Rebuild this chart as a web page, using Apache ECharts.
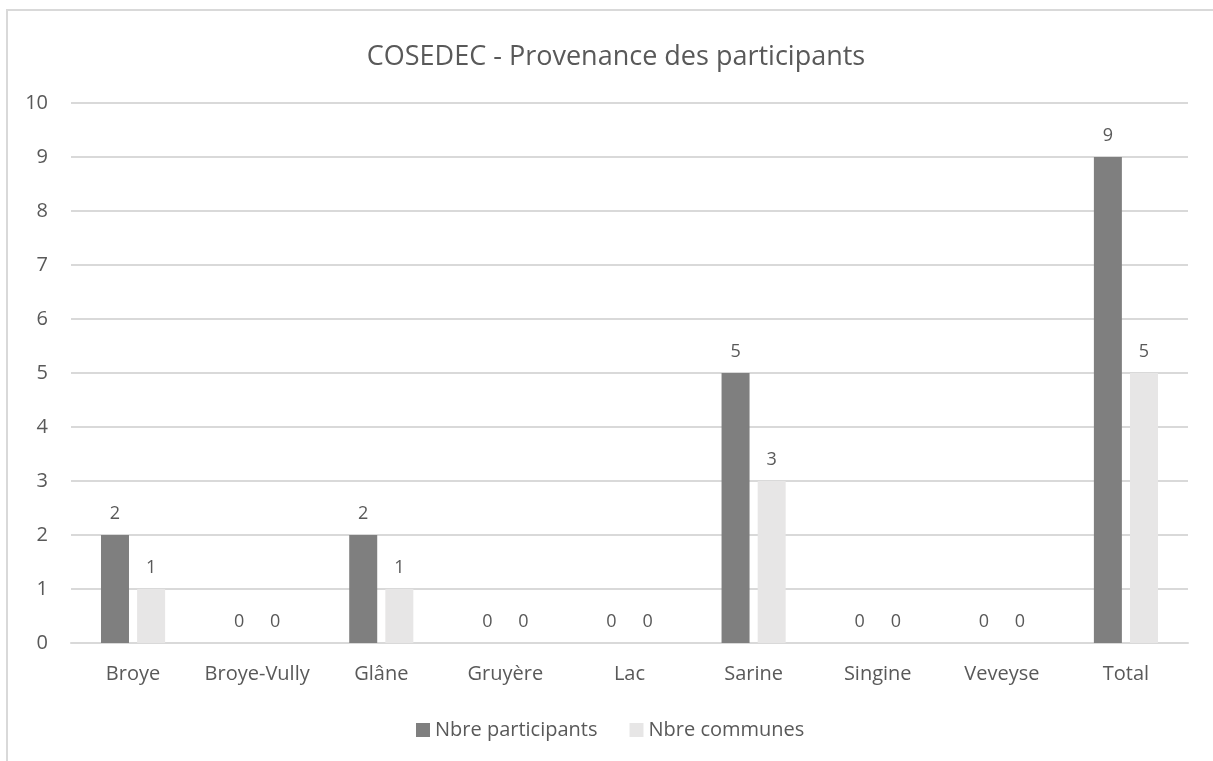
<!DOCTYPE html>
<html>
<head>
<meta charset="utf-8">
<script src="https://cdn.jsdelivr.net/npm/echarts@6/dist/echarts.min.js"></script>
<style>
  html, body { margin: 0; padding: 0; background: #fff; }
  #chart { width: 1213px; height: 761px; }
  .frame {
    position: absolute; left: 6px; top: 9px; width: 1300px; height: 800px;
    border-left: 2px solid #d9d9d9; border-top: 2px solid #d9d9d9;
    pointer-events: none;
  }
</style>
</head>
<body>
<div class="frame"></div>
<div id="chart"></div>
<script>
// données du graphique
const categories = ['Broye', 'Broye-Vully', 'Glâne', 'Gruyère', 'Lac', 'Sarine', 'Singine', 'Veveyse', 'Total'];
const participants = [2, 0, 2, 0, 0, 5, 0, 0, 9];
const communes = [1, 0, 1, 0, 0, 3, 0, 0, 5];
const seriesNames = ['Nbre participants', 'Nbre communes'];

const textColor = '#595959';
const font = '"Open Sans", "Noto Sans", sans-serif';

const chart = echarts.init(document.getElementById('chart'));

const labelStyle = {
  show: true,
  position: 'top',
  distance: 12,
  color: textColor,
  fontSize: 18,
  fontFamily: font
};

chart.setOption({
  animation: false,
  title: {
    text: 'COSEDEC - Provenance des participants',
    left: 611,
    top: 39,
    textAlign: 'center',
    textStyle: {
      color: textColor,
      fontSize: 27,
      fontWeight: 'normal',
      fontFamily: font
    }
  },
  legend: {
    data: seriesNames,
    left: 411,
    top: 715,
    itemWidth: 14,
    itemHeight: 14,
    itemGap: 32,
    icon: 'rect',
    textStyle: { color: textColor, fontSize: 20, fontFamily: font }
  },
  grid: { left: 71, right: 25, top: 103, bottom: 118 },
  xAxis: {
    type: 'category',
    data: categories,
    axisLine: { lineStyle: { color: '#d9d9d9', width: 2 } },
    axisTick: { show: false },
    axisLabel: { color: textColor, fontSize: 20, fontFamily: font, margin: 21, interval: 0 }
  },
  yAxis: {
    type: 'value',
    min: 0,
    max: 10,
    interval: 1,
    axisLine: { show: false },
    axisTick: { show: false },
    axisLabel: { color: textColor, fontSize: 20, fontFamily: font, margin: 23 },
    splitLine: { lineStyle: { color: '#d9d9d9', width: 2 } }
  },
  series: [
    {
      name: seriesNames[0],
      type: 'bar',
      data: participants,
      barWidth: 28,
      barGap: '29%',
      itemStyle: { color: '#7f7f7f' },
      label: labelStyle
    },
    {
      name: seriesNames[1],
      type: 'bar',
      data: communes,
      barWidth: 28,
      itemStyle: { color: '#e7e6e6' },
      label: labelStyle
    }
  ]
});

window.addEventListener('resize', () => chart.resize());
</script>
</body>
</html>
